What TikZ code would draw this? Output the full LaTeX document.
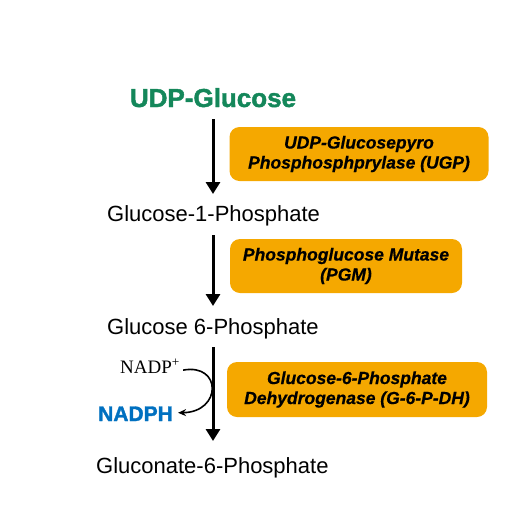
\documentclass[tikz,border=0pt]{standalone}
\usepackage{fontspec}
\setmainfont{Liberation Sans}
\newfontfamily\serifnadp{Liberation Serif}
\newfontfamily\heavysans[FakeBold=1.6]{Liberation Sans Bold}
\newfontfamily\heavyital[FakeBold=0.6]{Liberation Sans Bold Italic}
\usetikzlibrary{arrows.meta}
\definecolor{udpgreen}{RGB}{20,135,90}
\definecolor{nadphblue}{RGB}{0,112,192}
\definecolor{enzorange}{RGB}{245,168,0}
\tikzset{
	metab/.style={anchor=base west, inner sep=0pt, font=\fontsize{22}{26}\selectfont},
	enzyme/.style={fill=enzorange, rounded corners=10pt, align=center, inner sep=0pt,
		font=\fontsize{17.5}{20}\selectfont\heavyital},
	step arrow/.style={line width=3pt, -{Triangle[length=12pt,width=14pt]}}
}
\begin{document}
\begin{tikzpicture}[x=1pt,y=-1pt]
	\useasboundingbox (0,0) rectangle (525,531);
	% metabolites
	\node[anchor=base, inner sep=0pt, text=udpgreen, font=\fontsize{26}{30}\selectfont\heavysans] (udp) at (213,107) {UDP-Glucose};
	\node[metab] (g1p) at (107,221) {Glucose-1-Phosphate};
	\node[metab] (g6p) at (107,334) {Glucose 6-Phosphate};
	\node[metab] (gcp) at (96,473) {Gluconate-6-Phosphate};
	% enzymes
	\node[enzyme, minimum width=259pt, minimum height=54pt] (ugp) at (359,154) {UDP-Glucosepyro\\Phosphosphprylase (UGP)};
	\node[enzyme, minimum width=232pt, minimum height=54pt] (pgm) at (346,266) {Phosphoglucose Mutase\\(PGM)};
	\node[enzyme, minimum width=260pt, minimum height=55pt] (gpdh) at (357,389.5) {Glucose-6-Phosphate\\Dehydrogenase (G-6-P-DH)};
	% arrow ends
	\coordinate (s1) at (213,119);
	\coordinate (e1) at (213,194);
	\coordinate (s2) at (213,235);
	\coordinate (e2) at (213,306);
	\coordinate (s3) at (213,347);
	\coordinate (e3) at (213,441);
	\draw[step arrow] (s1) -- (e1);
	\draw[step arrow] (s2) -- (e2);
	\draw[step arrow] (s3) -- (e3);
	% cofactor
	\node[anchor=base west, inner sep=0pt, font=\fontsize{19}{22}\selectfont\serifnadp] (nadp) at (120,373) {NADP\textsuperscript{+}};
	\node[anchor=base west, inner sep=0pt, text=nadphblue, font=\fontsize{21}{24}\selectfont\heavysans] (nadph) at (98,421) {NADPH};
	\draw[line width=1.6pt, -{Stealth[length=8pt,width=7pt]}] ([xshift=3pt,yshift=-4pt]nadp.east) .. controls (222,363) and (222,412) .. ([xshift=5pt,yshift=1pt]nadph.east);
\end{tikzpicture}
\end{document}
